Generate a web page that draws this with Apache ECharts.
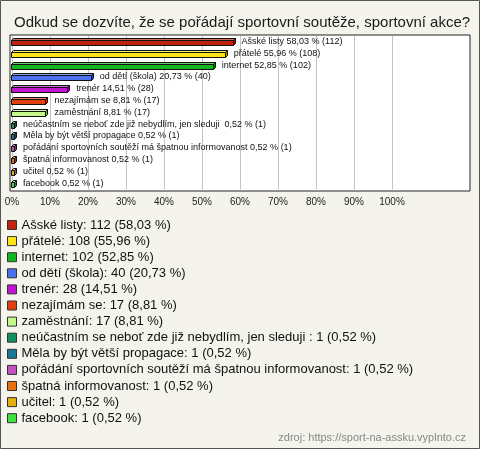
<!DOCTYPE html>
<html><head><meta charset="utf-8">
<script src="https://cdn.jsdelivr.net/npm/echarts@6/dist/echarts.min.js"></script>
<style>html,body{margin:0;padding:0;background:#f4f3ec}#c{width:480px;height:449px}</style>
</head><body><div id="c"></div>
<script>
const categories = ["Ašské listy","přátelé","internet","od dětí (škola)","trenér","nezajímám se","zaměstnání","neúčastním se neboť zde již nebydlím, jen sleduji ","Měla by být větší propagace","pořádání sportovních soutěží má špatnou informovanost","špatná informovanost","učitel","facebook"];
const counts = [112,108,102,40,28,17,17,1,1,1,1,1,1];
const percents = [58.03,55.96,52.85,20.73,14.51,8.81,8.81,0.52,0.52,0.52,0.52,0.52,0.52];
const colors = ["#c0200e","#ffe41c","#12b420","#4a72ee","#c014d0","#e0400e","#c4f88c","#10905e","#1a7896","#c452c4","#e8700e","#e4b00c","#40e040"];
const xTicks = [0,10,20,30,40,50,60,70,80,90,100];

const fmt = v => v.toFixed(2).replace('.', ',');
function shade(hex, f){
  const n = parseInt(hex.slice(1),16);
  let r=(n>>16)&255,g=(n>>8)&255,b=n&255;
  if(f>0){r=r+(255-r)*f;g=g+(255-g)*f;b=b+(255-b)*f;}
  else {r=r*(1+f);g=g*(1+f);b=b*(1+f);}
  return 'rgb('+Math.round(r)+','+Math.round(g)+','+Math.round(b)+')';
}
function renderItem(params, api){
  const v = api.value(0), ci = api.value(1);
  const p1 = api.coord([v, ci]), p0 = api.coord([0, ci]);
  const color = api.visual('color');
  const x0 = Math.round(p0[0]) - 0.5, x1 = Math.round(p1[0]) + 0.5;
  const cy = Math.round(p1[1]);
  const h = 5, d = 2;
  const ft = cy - 1.5;
  const i = params.seriesIndex;
  const stroke = {stroke:'#111', lineWidth:1};
  return {type:'group', children:[
    {type:'polygon', shape:{points:[[x0,ft],[x0+d,ft-d],[x1+d,ft-d],[x1,ft]]}, style:Object.assign({fill:shade(color,0.35)},stroke)},
    {type:'polygon', shape:{points:[[x1,ft],[x1+d,ft-d],[x1+d,ft-d+h],[x1,ft+h]]}, style:Object.assign({fill:shade(color,-0.35)},stroke)},
    {type:'rect', shape:{x:x0,y:ft,width:x1-x0,height:h}, style:Object.assign({fill:color},stroke)},
    {type:'text', x: p1[0] + 9, y: cy, style:{text: categories[i] + ' ' + fmt(percents[i]) + ' % (' + counts[i] + ')', fill:'#111', fontSize:9, fontFamily:'"Liberation Sans", Arial, sans-serif', verticalAlign:'middle', align:'left'}}
  ]};
}
const series = categories.map((c,i)=>({
  type:'custom', name:c, xAxisIndex:1, yAxisIndex:1, z:3, clip:false,
  itemStyle:{color:colors[i]},
  data:[[percents[i], c]],
  renderItem
}));
const chart = echarts.init(document.getElementById('c'));
chart.setOption({
  backgroundColor:'#f4f3ec',
  animation:false,
  textStyle:{fontFamily:'"Liberation Sans", Arial, sans-serif'},
  title:[
    {text:'Odkud se dozvíte, že se pořádají sportovní soutěže, sportovní akce?', left:9, top:10, textStyle:{fontSize:15, fontWeight:'normal', color:'#1a1a1a', fontFamily:'"Liberation Sans", Arial, sans-serif'}},
    {text:'zdroj: https://sport-na-assku.vyplnto.cz', right:9, top:427, textStyle:{fontSize:11, fontWeight:'normal', color:'#888', fontFamily:'"Liberation Sans", Arial, sans-serif'}}
  ],
  graphic:[{type:'rect', shape:{x:0.5,y:0.5,width:479,height:448}, style:{fill:null, stroke:'#555', lineWidth:1}, silent:true}],
  grid:[
    {left:10, top:35, width:460, height:156, show:true, backgroundColor:'#fff', borderColor:'#222', borderWidth:1, z:0},
    {left:12, right:88, top:36, height:153.5, z:1}
  ],
  xAxis:[
    {gridIndex:0, type:'value', show:false},
    {gridIndex:1, type:'value', min:xTicks[0], max:xTicks[xTicks.length-1], interval:10, z:1,
     axisLine:{show:false}, axisTick:{show:false},
     splitLine:{show:true, lineStyle:{color:'#c4c4c4', width:1}},
     axisLabel:{formatter:'{value}%', fontSize:10, color:'#222', margin:8}}
  ],
  yAxis:[
    {gridIndex:0, type:'value', show:false},
    {gridIndex:1, type:'category', data:categories, inverse:true, z:1,
     axisLine:{show:false}, axisTick:{show:false}, axisLabel:{show:false}, splitLine:{show:false}}
  ],
  legend:{
    orient:'vertical', left:7, top:217, padding:0, itemWidth:9, itemHeight:9, itemGap:0.1,
    icon:'rect', data:categories,
    itemStyle:{borderColor:'#333', borderWidth:1},
    textStyle:{fontSize:13, lineHeight:16, color:'#111', fontFamily:'"Liberation Sans", Arial, sans-serif'},
    selectedMode:false,
    formatter: name => { const i = categories.indexOf(name); return name + ': ' + counts[i] + ' (' + fmt(percents[i]) + ' %)'; }
  },
  series
});
</script></body></html>
